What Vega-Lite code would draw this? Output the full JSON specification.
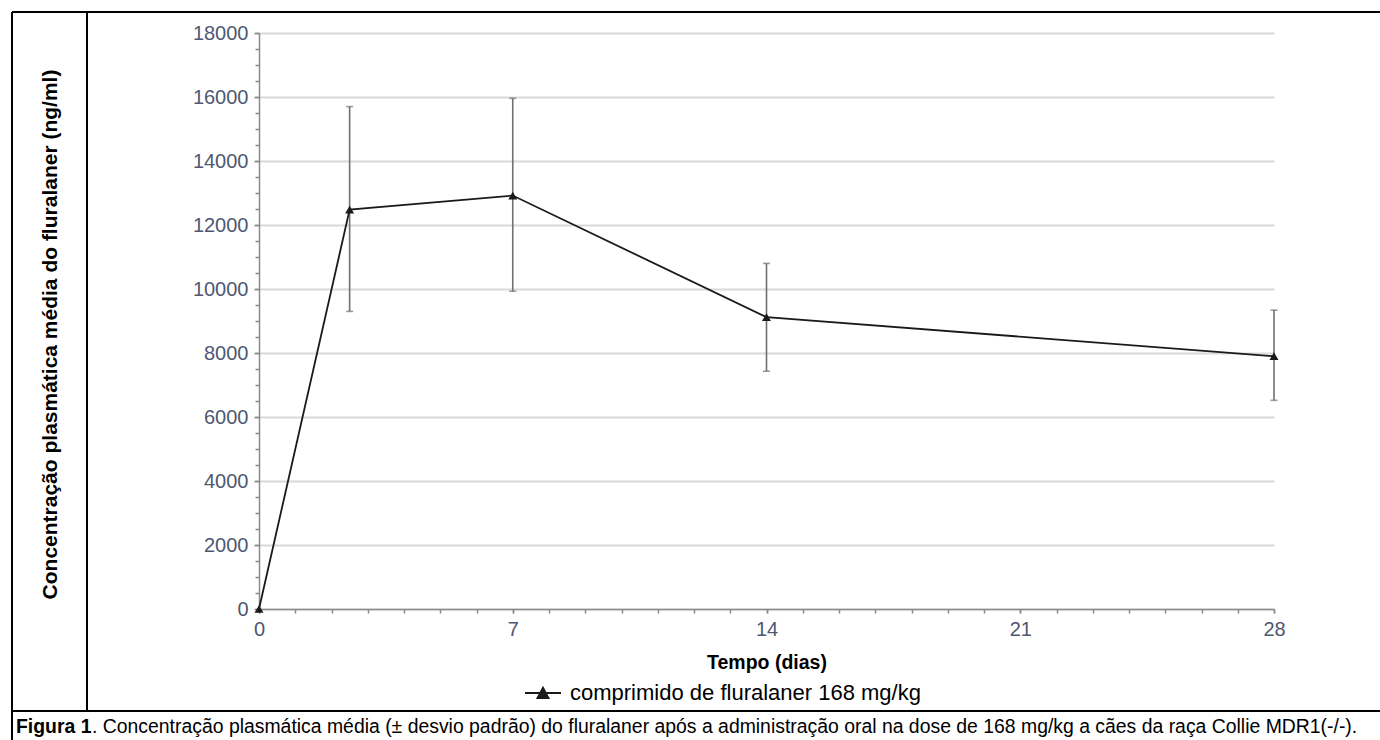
{
  "$schema": "https://vega.github.io/schema/vega-lite/v6.json",
  "width": 1015,
  "height": 576,
  "autosize": {"type": "none"},
  "padding": {"left": 259, "top": 33, "right": 106, "bottom": 131},
  "background": "white",
  "config": {"view": {"stroke": null}, "font": "Liberation Sans"},
  "datasets": {
    "pk": [
      {"day": 0, "mean": 0, "lo": null, "hi": null, "serie": "comprimido de fluralaner 168 mg/kg"},
      {"day": 2.5, "mean": 12480, "lo": 9300, "hi": 15700, "serie": "comprimido de fluralaner 168 mg/kg"},
      {"day": 7, "mean": 12920, "lo": 9930, "hi": 15960, "serie": "comprimido de fluralaner 168 mg/kg"},
      {"day": 14, "mean": 9120, "lo": 7430, "hi": 10800, "serie": "comprimido de fluralaner 168 mg/kg"},
      {"day": 28, "mean": 7900, "lo": 6520, "hi": 9340, "serie": "comprimido de fluralaner 168 mg/kg"}
    ],
    "one": [{"k": 1}]
  },
  "resolve": {"axis": {"x": "independent", "y": "independent"}},
  "layer": [
    {
      "data": {"name": "pk"},
      "mark": {"type": "point", "opacity": 0},
      "encoding": {
        "x": {"field": "day", "type": "quantitative", "scale": {"domain": [0, 28], "nice": false, "zero": false},
          "axis": {"orient": "bottom", "values": [0,1,2,3,4,5,6,7,8,9,10,11,12,13,14,15,16,17,18,19,20,21,22,23,24,25,26,27,28],
            "labels": false, "domain": false, "grid": false, "ticks": true, "tickSize": 4, "tickColor": "#8a8a8a", "tickWidth": 1.5, "title": null}},
        "y": {"field": "mean", "type": "quantitative", "scale": {"domain": [0, 18000], "nice": false},
          "axis": {"orient": "left", "values": [0,500,1000,1500,2000,2500,3000,3500,4000,4500,5000,5500,6000,6500,7000,7500,8000,8500,9000,9500,10000,10500,11000,11500,12000,12500,13000,13500,14000,14500,15000,15500,16000,16500,17000,17500,18000],
            "labels": false, "domain": false, "grid": false, "ticks": true, "tickSize": 4, "tickColor": "#8a8a8a", "tickWidth": 1.5, "title": null}}
      }
    },
    {
      "data": {"name": "pk"},
      "transform": [{"filter": "datum.lo != null"}],
      "mark": {"type": "errorbar", "orient": "vertical", "color": "#707070", "thickness": 1.6, "ticks": {"size": 7}},
      "encoding": {
        "x": {"field": "day", "type": "quantitative", "axis": null},
        "y": {"field": "lo", "type": "quantitative", "axis": null},
        "y2": {"field": "hi"}
      }
    },
    {
      "data": {"name": "pk"},
      "mark": {"type": "line", "strokeWidth": 1.8, "point": {"shape": "triangle-up", "filled": true, "size": 80}},
      "encoding": {
        "x": {"field": "day", "type": "quantitative",
          "axis": {"orient": "bottom", "values": [0, 7, 14, 21, 28], "format": "d", "labelFlush": false, "grid": false, "domainColor": "#8a8a8a", "domainWidth": 1.5,
            "tickColor": "#8a8a8a", "tickSize": 4, "tickWidth": 1.5, "labelFontSize": 20, "labelColor": "#4e5870", "labelPadding": 6,
            "title": "Tempo (dias)", "titleFont": "Liberation Sans", "titleFontWeight": "bold", "titleFontSize": 19.5, "titleColor": "#000000",
            "titleY": 53, "titleBaseline": "middle"}},
        "y": {"field": "mean", "type": "quantitative",
          "axis": {"orient": "left", "values": [0, 2000, 4000, 6000, 8000, 10000, 12000, 14000, 16000, 18000], "format": "d", "labelFlush": false, "grid": true, "gridColor": "#d9d9d9", "gridWidth": 2,
            "domainColor": "#8a8a8a", "domainWidth": 1.5, "tickColor": "#8a8a8a", "tickSize": 5, "tickWidth": 1.5,
            "labelFontSize": 20, "labelColor": "#4e5870", "labelPadding": 6,
            "title": "Concentração plasmática média do fluralaner (ng/ml)", "titleFont": "Liberation Sans", "titleFontWeight": "bold", "titleFontSize": 21, "titleColor": "#000000",
            "titleAngle": 270, "titleX": -209, "titleY": 301, "titleAlign": "center", "titleBaseline": "middle"}},
        "color": {"field": "serie", "type": "nominal", "scale": {"range": ["#1a1a1a"]},
          "legend": {"orient": "none", "legendX": 265, "legendY": 641, "title": null,
            "symbolType": "M-1,0L1,0M-0.3,0.28L0,-0.28L0.3,0.28Z", "symbolSize": 1296, "symbolStrokeWidth": 2,
            "symbolStrokeColor": "#1a1a1a", "symbolFillColor": "#1a1a1a", "labelFontSize": 22, "labelColor": "#000000", "labelOffset": 8, "labelLimit": 700}}
      }
    },
    {
      "data": {"name": "one"},
      "mark": {"type": "rule", "color": "#000000", "strokeWidth": 2, "clip": false},
      "encoding": {
        "x": {"datum": -6.814, "type": "quantitative", "axis": null},
        "x2": {"datum": 31},
        "y": {"datum": 18656, "type": "quantitative", "axis": null}
      }
    },
    {
      "data": {"name": "one"},
      "mark": {"type": "rule", "color": "#000000", "strokeWidth": 2, "clip": false},
      "encoding": {
        "x": {"datum": -6.814, "type": "quantitative", "axis": null},
        "x2": {"datum": 31},
        "y": {"datum": -3188, "type": "quantitative", "axis": null}
      }
    },
    {
      "data": {"name": "one"},
      "mark": {"type": "rule", "color": "#000000", "strokeWidth": 2, "clip": false},
      "encoding": {
        "x": {"datum": -6.814, "type": "quantitative", "axis": null},
        "y": {"datum": 18656, "type": "quantitative", "axis": null},
        "y2": {"datum": -4300}
      }
    },
    {
      "data": {"name": "one"},
      "mark": {"type": "rule", "color": "#000000", "strokeWidth": 2, "clip": false},
      "encoding": {
        "x": {"datum": -4.745, "type": "quantitative", "axis": null},
        "y": {"datum": 18656, "type": "quantitative", "axis": null},
        "y2": {"datum": -3188}
      }
    },
    {
      "data": {"name": "one"},
      "mark": {"type": "text", "text": "Figura 1", "font": "Liberation Sans", "fontWeight": "bold", "fontSize": 19.4, "align": "left", "baseline": "middle", "color": "#000000", "clip": false},
      "encoding": {
        "x": {"datum": -6.703, "type": "quantitative", "axis": null},
        "y": {"datum": -3690, "type": "quantitative", "axis": null}
      }
    },
    {
      "data": {"name": "one"},
      "mark": {"type": "text", "text": ". Concentração plasmática média (± desvio padrão) do fluralaner após a administração oral na dose de 168 mg/kg a cães da raça Collie MDR1(-/-).", "font": "Liberation Sans", "fontSize": 19.4, "align": "left", "baseline": "middle", "color": "#000000", "clip": false},
      "encoding": {
        "x": {"datum": -4.607, "type": "quantitative", "axis": null},
        "y": {"datum": -3690, "type": "quantitative", "axis": null}
      }
    }
  ]
}
